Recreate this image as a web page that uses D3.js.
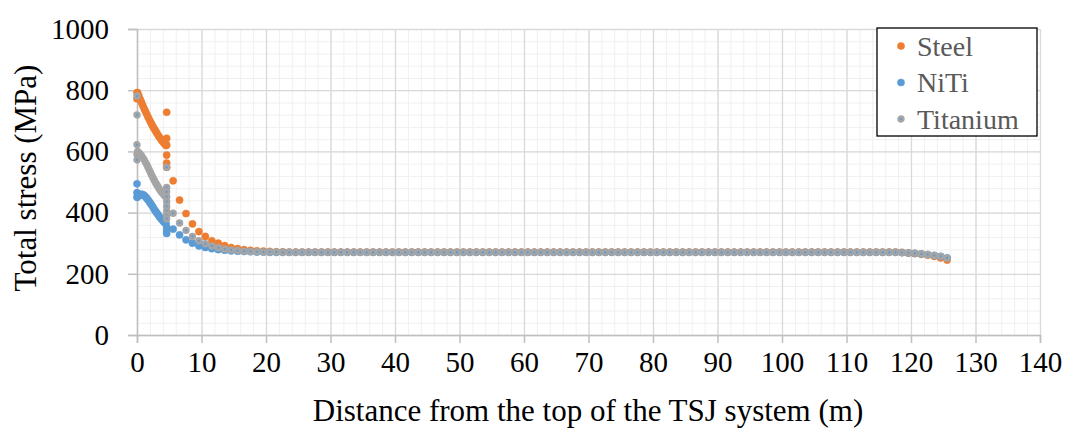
<!DOCTYPE html>
<html>
<head>
<meta charset="utf-8">
<script src="https://cdn.jsdelivr.net/npm/d3@7"></script>
<style>
  body { margin: 0; background: #fff; }
  svg text { font-family: "Liberation Serif", serif !important; }
</style>
</head>
<body>
<div id="chart"></div>
<script>
// series names + ticks
var seriesNames = ["Steel", "NiTi", "Titanium"];
var xTicks = [0, 10, 20, 30, 40, 50, 60, 70, 80, 90, 100, 110, 120, 130, 140];
var yTicks = [0, 200, 400, 600, 800, 1000];

// dense part near the top (0 - 4.5 m)
var denseX = [0.1, 0.3, 0.5, 0.7, 0.9, 1.1, 1.3, 1.5, 1.7, 1.9, 2.1, 2.3, 2.5, 2.7, 2.9, 3.1, 3.3, 3.5, 3.7, 3.9, 4.1, 4.3, 4.5];
// points every metre after that
var sparseX = [5.6, 6.6, 7.6, 8.6, 9.6, 10.6, 11.6, 12.6, 13.6, 14.6,
  15.6, 16.6, 17.6, 18.6, 19.6, 20.6, 21.6, 22.6, 23.6, 24.6,
  25.6, 26.6, 27.6, 28.6, 29.6, 30.6, 31.6, 32.6, 33.6, 34.6,
  35.6, 36.6, 37.6, 38.6, 39.6, 40.6, 41.6, 42.6, 43.6, 44.6,
  45.6, 46.6, 47.6, 48.6, 49.6, 50.6, 51.6, 52.6, 53.6, 54.6,
  55.6, 56.6, 57.6, 58.6, 59.6, 60.6, 61.6, 62.6, 63.6, 64.6,
  65.6, 66.6, 67.6, 68.6, 69.6, 70.6, 71.6, 72.6, 73.6, 74.6,
  75.6, 76.6, 77.6, 78.6, 79.6, 80.6, 81.6, 82.6, 83.6, 84.6,
  85.6, 86.6, 87.6, 88.6, 89.6, 90.6, 91.6, 92.6, 93.6, 94.6,
  95.6, 96.6, 97.6, 98.6, 99.6, 100.6, 101.6, 102.6, 103.6, 104.6,
  105.6, 106.6, 107.6, 108.6, 109.6, 110.6, 111.6, 112.6, 113.6, 114.6,
  115.6, 116.6, 117.6, 118.6, 119.6, 120.6, 121.6, 122.6, 123.6, 124.6,
  125.6];
var jumpX = 4.6;

// Steel
var steelAt0 = [792, 772];
var steelDense = [792, 781, 770, 760, 750, 740, 731, 722, 713, 704, 696, 688, 680, 673, 666, 659, 652, 646, 640, 634, 629, 624, 619];
var steelJump = [728, 643, 621, 588, 562, 548];
var steelSparse = [504, 441, 397, 363, 338, 322, 308, 300, 292, 286,
  282, 279, 277, 275, 274, 273, 272, 272, 271, 271,
  271, 271, 271, 271, 271, 271, 271, 271, 271, 271,
  271, 271, 271, 271, 271, 271, 271, 271, 271, 271,
  271, 271, 271, 271, 271, 271, 271, 271, 271, 271,
  271, 271, 271, 271, 271, 271, 271, 271, 271, 271,
  271, 271, 271, 271, 271, 271, 271, 271, 271, 271,
  271, 271, 271, 271, 271, 271, 271, 271, 271, 271,
  271, 271, 271, 271, 271, 271, 271, 271, 271, 271,
  271, 271, 271, 271, 271, 271, 271, 271, 271, 271,
  271, 271, 271, 271, 271, 271, 271, 271, 271, 271,
  271, 271, 271,
  270, 268, 266, 264, 261, 257, 252, 245];

// NiTi
var nitiAt0 = [494, 465, 450];
var nitiDense = [452, 456, 459, 460, 459, 456, 452, 447, 442, 436, 430, 424, 417, 410, 404, 398, 392, 386, 381, 376, 371, 367, 364];
var nitiJump = [352, 341, 332];
var nitiSparse = [346, 327, 311, 300, 291, 286, 282, 279, 277, 275,
  274, 273, 272, 271, 271, 270, 270, 270, 270, 270,
  270, 270, 270, 270, 270, 270, 270, 270, 270, 270,
  270, 270, 270, 270, 270, 270, 270, 270, 270, 270,
  270, 270, 270, 270, 270, 270, 270, 270, 270, 270,
  270, 270, 270, 270, 270, 270, 270, 270, 270, 270,
  270, 270, 270, 270, 270, 270, 270, 270, 270, 270,
  270, 270, 270, 270, 270, 270, 270, 270, 270, 270,
  270, 270, 270, 270, 270, 270, 270, 270, 270, 270,
  270, 270, 270, 270, 270, 270, 270, 270, 270, 270,
  270, 270, 270, 270, 270, 270, 270, 270, 270, 270,
  270, 270, 270,
  269, 268, 267, 265, 263, 260, 257, 252];

// Titanium
var titaniumAt0 = [781, 719, 622, 590, 572];
var titaniumDense = [600, 596, 591, 586, 580, 573, 565, 557, 548, 539, 530, 521, 513, 505, 497, 490, 483, 476, 470, 465, 460, 455, 451];
var titaniumJump = [548, 482, 468, 452, 436, 420, 405, 392, 380];
var titaniumSparse = [398, 366, 342, 322, 308, 298, 291, 285, 281, 278,
  276, 274, 273, 272, 271, 271, 271, 270, 270, 270,
  270, 270, 270, 270, 270, 270, 270, 270, 270, 270,
  270, 270, 270, 270, 270, 270, 270, 270, 270, 270,
  270, 270, 270, 270, 270, 270, 270, 270, 270, 270,
  270, 270, 270, 270, 270, 270, 270, 270, 270, 270,
  270, 270, 270, 270, 270, 270, 270, 270, 270, 270,
  270, 270, 270, 270, 270, 270, 270, 270, 270, 270,
  270, 270, 270, 270, 270, 270, 270, 270, 270, 270,
  270, 270, 270, 270, 270, 270, 270, 270, 270, 270,
  270, 270, 270, 270, 270, 270, 270, 270, 270, 270,
  270, 270, 270,
  269, 268, 267, 265, 263, 260, 257, 252];

// join the pieces of one series into {x, y} points
function buildPoints(at0, dense, jump, sparse) {
    var pts = [];
    at0.forEach(function(v) { pts.push({x: 0, y: v}); });
    dense.forEach(function(v, i) { pts.push({x: denseX[i], y: v}); });
    jump.forEach(function(v) { pts.push({x: jumpX, y: v}); });
    sparse.forEach(function(v, i) { pts.push({x: sparseX[i], y: v}); });
    return pts;
}

var series = [
    {name: seriesNames[0], points: buildPoints(steelAt0, steelDense, steelJump, steelSparse), fill: "#ED7D31", stroke: "#ED7D31", r: 3.6, sw: 0.5},
    {name: seriesNames[1], points: buildPoints(nitiAt0, nitiDense, nitiJump, nitiSparse), fill: "#5B9BD5", stroke: "#5B9BD5", r: 3.6, sw: 0.5},
    {name: seriesNames[2], points: buildPoints(titaniumAt0, titaniumDense, titaniumJump, titaniumSparse), fill: "#5B9BD5", stroke: "#A5A5A5", r: 2.4, sw: 2.6}
];

var FONT = "Liberation Serif";

// set the dimensions and margins of the graph
var margin = {top: 29, right: 30, bottom: 95, left: 137},
    width = 1070 - margin.left - margin.right,
    height = 430 - margin.top - margin.bottom;

var root = d3.select("#chart")
  .append("svg")
    .attr("width", 1070)
    .attr("height", 430)
    .attr("font-family", FONT);
var svg = root.append("g")
    .attr("transform", "translate(" + margin.left + "," + margin.top + ")");

var x = d3.scaleLinear().domain([0, 140]).range([0, width]);
var y = d3.scaleLinear().domain([0, 1000]).range([height, 0]);

// minor gridlines
svg.append("g")
    .attr("class", "grid minor")
    .call(d3.axisBottom(x).tickValues(d3.range(0, 141, 2)).tickSize(height).tickFormat(""));
svg.append("g")
    .attr("class", "grid minor")
    .call(d3.axisLeft(y).tickValues(d3.range(0, 1001, 40)).tickSize(-width).tickFormat(""));
svg.selectAll(".minor line").attr("stroke", "#f0f0f0").attr("stroke-width", 1);

// major gridlines
svg.append("g")
    .attr("class", "grid major")
    .call(d3.axisBottom(x).tickValues(xTicks).tickSize(height).tickFormat(""));
svg.append("g")
    .attr("class", "grid major")
    .call(d3.axisLeft(y).tickValues(yTicks).tickSize(-width).tickFormat(""));
svg.selectAll(".major line").attr("stroke", "#d9d9d9").attr("stroke-width", 1.3);
svg.selectAll(".grid .domain").remove();

// X axis
var xAxis = svg.append("g")
    .attr("transform", "translate(0," + height + ")")
    .call(d3.axisBottom(x).tickValues(xTicks).tickFormat(d3.format("d")).tickSize(8).tickPadding(4));
// Y axis
var yAxis = svg.append("g")
    .call(d3.axisLeft(y).tickValues(yTicks).tickFormat(d3.format("d")).tickSize(9).tickPadding(19));

[xAxis, yAxis].forEach(function(a) {
    a.attr("font-family", FONT).attr("font-size", 29);
    a.select(".domain").attr("stroke", "#bfbfbf").attr("stroke-width", 1.5);
    a.selectAll(".tick line").attr("stroke", "#bfbfbf").attr("stroke-width", 1.5);
    a.selectAll("text")
        .attr("font-family", FONT)
        .attr("font-size", 29)
        .attr("fill", "#000");
});
xAxis.selectAll("text").attr("dy", "0.85em");

// points, drawn Steel -> NiTi -> Titanium
series.forEach(function(s) {
    svg.append("g")
      .selectAll("circle")
      .data(s.points)
      .enter()
      .append("circle")
        .attr("cx", function(d) { return x(d.x); })
        .attr("cy", function(d) { return y(d.y); })
        .attr("r", s.r)
        .attr("fill", s.fill)
        .attr("stroke", s.stroke)
        .attr("stroke-width", s.sw);
});

// axis titles
root.append("text")
    .attr("x", 588)
    .attr("y", 421)
    .attr("text-anchor", "middle")
    .attr("font-family", FONT)
    .attr("font-size", 31)
    .text("Distance from the top of the TSJ system (m)");
root.append("text")
    .attr("transform", "translate(36,178) rotate(-90)")
    .attr("text-anchor", "middle")
    .attr("font-family", FONT)
    .attr("font-size", 31)
    .text("Total stress (MPa)");

// legend
var legend = root.append("g").attr("transform", "translate(877,28)");
legend.append("rect")
    .attr("width", 160)
    .attr("height", 108)
    .attr("fill", "#fff")
    .attr("stroke", "#000")
    .attr("stroke-width", 1.3);
series.forEach(function(s, i) {
    var row = legend.append("g").attr("transform", "translate(0," + (18 + i * 36.5) + ")");
    row.append("circle")
        .attr("cx", 24)
        .attr("cy", 0)
        .attr("r", s.r)
        .attr("fill", s.fill)
        .attr("stroke", s.stroke)
        .attr("stroke-width", s.sw);
    row.append("text")
        .attr("x", 40)
        .attr("y", 9.5)
        .attr("fill", "#595959")
        .attr("font-family", FONT)
        .attr("font-size", 28)
        .text(s.name);
});
</script>
</body>
</html>
